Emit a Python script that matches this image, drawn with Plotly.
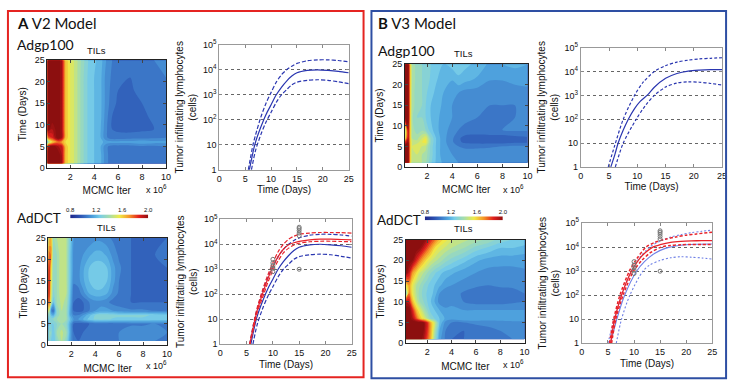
import plotly.graph_objects as go

W, H = 737, 389
FONT = "Liberation Sans"

# ---------------- heatmap data (TILs, posterior ratio) ----------------
# A1: V2 model, Adgp100
A1_X = [0.1, 0.5, 1.0, 1.3, 1.6, 2.0, 2.5, 3.0, 3.5, 4.0, 4.5, 5.0, 5.5, 6.0, 7.0, 8.0, 9.0, 10.0]
A1_Y = [1, 3, 5, 6, 7, 9, 12, 15, 18, 21, 25]
A1_Z = [
    [2.0, 2.0, 2.0, 1.9, 1.6, 1.5, 1.42, 1.32, 1.24, 1.2, 1.17, 1.06, 1.03, 1.03, 1.04, 1.04, 1.05, 1.05],
    [2.0, 2.0, 2.0, 1.9, 1.6, 1.5, 1.42, 1.32, 1.24, 1.2, 1.17, 1.06, 1.03, 1.03, 1.04, 1.04, 1.05, 1.05],
    [1.9, 2.0, 1.9, 1.85, 1.6, 1.5, 1.42, 1.32, 1.24, 1.2, 1.16, 1.06, 1.03, 1.03, 1.03, 1.04, 1.04, 1.05],
    [1.3, 1.55, 1.7, 1.65, 1.55, 1.5, 1.42, 1.32, 1.24, 1.2, 1.17, 1.13, 1.12, 1.12, 1.12, 1.14, 1.12, 1.12],
    [1.7, 1.8, 2.0, 1.9, 1.6, 1.5, 1.42, 1.32, 1.24, 1.2, 1.16, 1.06, 1.02, 1.02, 1.03, 1.03, 1.04, 1.05],
    [2.0, 1.9, 2.0, 1.9, 1.6, 1.5, 1.42, 1.32, 1.24, 1.2, 1.16, 1.06, 1.0, 0.99, 0.98, 0.99, 1.0, 1.02],
    [2.0, 2.0, 2.0, 1.9, 1.6, 1.5, 1.42, 1.32, 1.24, 1.2, 1.17, 1.07, 1.0, 0.98, 0.97, 0.98, 1.02, 1.04],
    [2.0, 2.0, 2.0, 1.9, 1.6, 1.5, 1.42, 1.32, 1.24, 1.2, 1.17, 1.08, 1.02, 0.99, 0.97, 1.0, 1.03, 1.04],
    [2.0, 2.0, 2.0, 1.9, 1.6, 1.5, 1.42, 1.32, 1.24, 1.2, 1.17, 1.08, 1.03, 1.0, 0.99, 1.02, 1.03, 1.04],
    [2.0, 2.0, 2.0, 1.9, 1.6, 1.5, 1.42, 1.32, 1.24, 1.2, 1.17, 1.08, 1.04, 1.02, 1.0, 1.03, 1.04, 1.05],
    [2.0, 2.0, 2.0, 1.9, 1.6, 1.5, 1.42, 1.33, 1.25, 1.21, 1.18, 1.1, 1.05, 1.04, 1.03, 1.04, 1.05, 1.06],
]

# A2: V2 model, AdDCT
A2_X = [0.1, 0.3, 0.5, 0.8, 1.2, 1.6, 1.9, 2.2, 2.6, 3.0, 3.5, 4.0, 4.5, 5.0, 5.5, 6.0, 7.0, 8.0, 9.0, 10.0]
A2_Y = [1, 3, 5, 6, 7, 8, 10, 12, 15, 18, 21, 25]
A2_Z = [
    [1.3, 1.25, 1.2, 1.3, 1.4, 1.3, 1.12, 1.02, 1.0, 1.02, 1.04, 1.05, 1.05, 1.05, 1.05, 1.05, 1.06, 1.06, 1.05, 1.05],
    [1.35, 1.3, 1.2, 1.35, 1.42, 1.35, 1.15, 1.0, 0.98, 1.0, 1.03, 1.05, 1.05, 1.04, 1.04, 1.05, 1.08, 1.08, 1.06, 1.05],
    [1.2, 1.25, 1.25, 1.3, 1.35, 1.3, 1.15, 1.0, 0.98, 0.98, 1.0, 1.02, 1.02, 1.02, 1.02, 1.03, 1.04, 1.04, 1.05, 1.05],
    [1.3, 1.3, 1.3, 1.35, 1.4, 1.35, 1.2, 1.1, 1.1, 1.15, 1.22, 1.26, 1.27, 1.26, 1.24, 1.24, 1.24, 1.24, 1.22, 1.22],
    [1.4, 1.2, 1.15, 1.3, 1.4, 1.35, 1.15, 1.05, 1.05, 1.1, 1.18, 1.25, 1.28, 1.28, 1.27, 1.26, 1.26, 1.26, 1.24, 1.23],
    [1.6, 1.1, 1.0, 1.3, 1.4, 1.35, 1.15, 1.0, 0.98, 1.0, 1.05, 1.1, 1.12, 1.12, 1.1, 1.08, 1.06, 1.06, 1.05, 1.05],
    [1.85, 1.45, 1.2, 1.35, 1.42, 1.38, 1.18, 1.0, 0.98, 1.0, 1.05, 1.08, 1.08, 1.06, 1.03, 1.02, 1.0, 1.0, 1.0, 1.0],
    [1.95, 1.5, 1.28, 1.35, 1.45, 1.4, 1.2, 1.02, 1.02, 1.08, 1.15, 1.18, 1.18, 1.15, 1.08, 1.04, 1.0, 0.99, 0.99, 1.0],
    [1.95, 1.55, 1.3, 1.35, 1.45, 1.4, 1.22, 1.06, 1.08, 1.14, 1.2, 1.24, 1.24, 1.2, 1.12, 1.05, 1.0, 0.99, 1.0, 1.0],
    [1.9, 1.6, 1.3, 1.35, 1.45, 1.4, 1.22, 1.08, 1.08, 1.14, 1.2, 1.23, 1.23, 1.2, 1.12, 1.06, 1.0, 1.0, 1.0, 1.0],
    [1.75, 1.7, 1.3, 1.35, 1.45, 1.4, 1.22, 1.08, 1.06, 1.1, 1.14, 1.17, 1.17, 1.14, 1.08, 1.04, 1.0, 1.0, 1.0, 1.02],
    [1.55, 1.6, 1.35, 1.4, 1.45, 1.4, 1.25, 1.1, 1.05, 1.05, 1.06, 1.08, 1.08, 1.06, 1.04, 1.02, 1.0, 1.0, 1.0, 1.0],
]

# B1: V3 model, Adgp100
B1_X = [0.25, 0.5, 0.65, 0.8, 1.2, 1.6, 1.9, 2.3, 2.8, 3.3, 4.0, 4.5, 5.0, 6.0, 7.0, 8.0, 9.0, 10.0]
B1_Y = [1, 3, 5, 6, 7, 9, 12, 15, 18, 21, 25]
B1_Z = [
    [2.0, 2.0, 1.6, 1.42, 1.42, 1.4, 1.36, 1.26, 1.18, 1.14, 1.12, 1.1, 1.1, 1.1, 1.1, 1.1, 1.1, 1.1],
    [2.0, 2.0, 1.6, 1.42, 1.45, 1.4, 1.38, 1.28, 1.18, 1.12, 1.1, 1.08, 1.08, 1.08, 1.1, 1.1, 1.1, 1.1],
    [2.0, 2.0, 1.6, 1.45, 1.5, 1.45, 1.42, 1.28, 1.18, 1.12, 1.08, 1.05, 1.04, 1.04, 1.04, 1.05, 1.06, 1.06],
    [1.8, 1.95, 1.6, 1.45, 1.42, 1.5, 1.52, 1.3, 1.18, 1.12, 1.06, 1.01, 0.99, 0.98, 0.98, 0.98, 0.99, 0.99],
    [1.5, 1.9, 1.6, 1.4, 1.38, 1.45, 1.5, 1.3, 1.18, 1.12, 1.06, 1.01, 0.98, 0.97, 0.97, 0.97, 0.98, 0.99],
    [1.4, 1.9, 1.6, 1.38, 1.32, 1.34, 1.3, 1.22, 1.16, 1.12, 1.08, 1.05, 1.04, 1.04, 1.05, 1.05, 1.06, 1.06],
    [1.95, 2.0, 1.6, 1.36, 1.3, 1.3, 1.25, 1.2, 1.16, 1.13, 1.1, 1.07, 1.06, 1.05, 1.05, 1.05, 1.05, 1.06],
    [2.0, 2.0, 1.6, 1.38, 1.32, 1.3, 1.25, 1.2, 1.17, 1.14, 1.1, 1.08, 1.07, 1.06, 1.05, 1.05, 1.05, 1.06],
    [2.0, 2.0, 1.6, 1.38, 1.32, 1.3, 1.26, 1.22, 1.18, 1.15, 1.12, 1.1, 1.08, 1.07, 1.06, 1.06, 1.06, 1.08],
    [2.0, 2.0, 1.6, 1.4, 1.32, 1.3, 1.28, 1.24, 1.2, 1.18, 1.15, 1.18, 1.16, 1.14, 1.1, 1.1, 1.12, 1.12],
    [2.0, 2.0, 1.6, 1.4, 1.32, 1.3, 1.28, 1.25, 1.22, 1.2, 1.22, 1.24, 1.22, 1.18, 1.14, 1.15, 1.16, 1.15],
]

# B2: V3 model, AdDCT
B2_X = [0.2, 0.5, 0.8, 1.1, 1.4, 1.7, 2.0, 2.3, 2.6, 3.0, 3.5, 4.0, 5.0, 6.0, 7.0, 8.0, 9.0, 10.0]
B2_Y = [1, 3, 5, 6, 8, 10, 12, 14, 17, 20, 23, 25]
B2_Z = [
    [2.0, 2.0, 2.0, 2.0, 2.0, 1.9, 1.75, 1.6, 1.35, 1.12, 1.04, 1.0, 1.0, 1.02, 1.03, 1.05, 1.05, 1.06],
    [2.0, 2.0, 2.0, 2.0, 2.0, 1.95, 1.8, 1.62, 1.4, 1.15, 1.05, 1.02, 1.0, 1.02, 1.04, 1.05, 1.06, 1.06],
    [2.0, 2.0, 2.0, 2.0, 2.0, 1.95, 1.8, 1.6, 1.45, 1.2, 1.08, 1.05, 1.05, 1.06, 1.06, 1.07, 1.08, 1.08],
    [2.0, 2.0, 1.9, 1.75, 1.6, 1.5, 1.4, 1.3, 1.25, 1.2, 1.14, 1.12, 1.15, 1.15, 1.14, 1.14, 1.14, 1.14],
    [2.0, 2.0, 1.8, 1.6, 1.48, 1.38, 1.3, 1.22, 1.2, 1.15, 1.12, 1.12, 1.1, 1.1, 1.1, 1.1, 1.1, 1.1],
    [1.9, 1.85, 1.6, 1.45, 1.35, 1.3, 1.25, 1.2, 1.15, 1.08, 1.05, 1.08, 1.05, 1.03, 1.03, 1.03, 1.04, 1.05],
    [1.2, 1.7, 1.5, 1.4, 1.32, 1.28, 1.24, 1.22, 1.18, 1.1, 1.06, 1.08, 1.04, 1.02, 1.02, 1.02, 1.03, 1.05],
    [1.5, 1.65, 1.5, 1.4, 1.35, 1.3, 1.26, 1.22, 1.2, 1.16, 1.12, 1.1, 1.08, 1.06, 1.05, 1.06, 1.06, 1.08],
    [2.0, 1.85, 1.65, 1.55, 1.45, 1.4, 1.35, 1.3, 1.26, 1.22, 1.18, 1.16, 1.12, 1.1, 1.08, 1.08, 1.08, 1.09],
    [2.0, 2.0, 1.95, 1.82, 1.7, 1.6, 1.52, 1.46, 1.42, 1.38, 1.32, 1.28, 1.22, 1.16, 1.13, 1.12, 1.12, 1.12],
    [2.0, 2.0, 2.0, 2.0, 1.95, 1.85, 1.75, 1.65, 1.55, 1.48, 1.44, 1.4, 1.35, 1.28, 1.24, 1.2, 1.2, 1.18],
    [2.0, 2.0, 2.0, 2.0, 2.0, 2.0, 1.9, 1.8, 1.72, 1.6, 1.52, 1.46, 1.42, 1.38, 1.34, 1.28, 1.25, 1.24],
]

CB_TICKS = [0.8, 1.2, 1.6, 2.0]

# ---------------- TIL trajectories (cells) ----------------
# V2 model, blue (Adgp100 fit)
V2B_MED_D = [5.8, 6.5, 7, 8, 9, 10, 11, 12, 13, 14, 15, 17, 19, 21, 23, 25]
V2B_MED_V = [1, 5, 13, 50, 160, 400, 1000, 2000, 3550, 5600, 7600, 9500, 10000, 9500, 8700, 7600]
V2B_UP_D = [5.6, 6.5, 7, 8, 9, 10, 11, 12, 13, 14, 15, 17, 19, 21, 23, 25]
V2B_UP_V = [1, 10, 25, 125, 450, 1250, 3200, 6300, 10000, 14000, 18000, 23000, 25000, 25000, 23500, 21000]
V2B_LO_D = [6.2, 7, 8, 9, 10, 11, 12, 13, 14, 15, 17, 19, 21, 23, 25]
V2B_LO_V = [1, 6, 25, 80, 200, 500, 1000, 1600, 2500, 3200, 3800, 4000, 3800, 3300, 2800]
# V2 model, red (AdDCT fit)
V2R_D = [5.6, 6.5, 7, 8, 9, 10, 11, 12, 13, 14, 15, 17, 19, 21, 23, 25]
V2R_MED_V = [1, 8, 22, 100, 400, 1250, 3200, 6300, 9500, 11500, 13000, 15000, 16000, 16000, 15500, 15000]
V2R_UP_V = [1, 10, 28, 140, 560, 1800, 5000, 10000, 16000, 21000, 25000, 28000, 29500, 29500, 29000, 28000]
V2R_LO_V = [1, 6, 18, 70, 280, 900, 2200, 4500, 7000, 9300, 11000, 12600, 13200, 13200, 12900, 12600]

# V3 model, blue (Adgp100 fit)
V3B_MED_D = [5.3, 6, 6.6, 7.5, 8.4, 9.5, 10.5, 11.9, 13, 15, 17, 19, 21, 23, 25]
V3B_MED_V = [1, 3.2, 10, 35, 100, 280, 560, 1100, 2200, 5200, 8300, 10500, 11500, 12000, 12000]
V3B_UP_D = [4.85, 6, 7.5, 9.5, 11, 13, 15, 17, 19, 21, 23, 25]
V3B_UP_V = [1, 8, 100, 1000, 3500, 10000, 17800, 25000, 30000, 34000, 36000, 38000]
V3B_LO_D = [6.1, 7.5, 9.8, 11.5, 13, 15, 17, 19, 21, 23, 25]
V3B_LO_V = [1, 10, 100, 400, 1000, 2240, 3300, 3700, 3550, 3160, 2700]
# V3 model, AdDCT panel
V3R_MED_D = [5.5, 6.3, 7.6, 9.5, 11, 12.3, 13.6, 15, 17, 19, 21, 23, 25]
V3R_MED_V = [1, 10, 100, 1000, 3200, 6300, 10000, 12600, 15800, 17400, 18200, 18600, 18600]
V3R_UP_D = [5.3, 6.1, 7.3, 9.1, 10.5, 12.3, 14, 16, 18, 20, 22, 25]
V3R_UP_V = [1, 10, 100, 1000, 3200, 10000, 15800, 21400, 26300, 31600, 35500, 41700]
V3R_LO_D = [5.7, 6.5, 7.9, 9.9, 11.5, 13, 15.2, 17, 19, 21, 23, 25]
V3R_LO_V = [1, 10, 100, 1000, 2800, 5600, 10000, 11700, 12600, 12900, 12900, 12900]
V3L_UP_D = [5.0, 6.2, 7.6, 9.5, 11, 13, 15, 17, 19, 21, 23, 25]
V3L_UP_V = [1, 10, 100, 1000, 3500, 10000, 17800, 26300, 33000, 40000, 45700, 51000]
V3L_MED_D = [5.5, 6.7, 8.2, 10.5, 12, 14, 16, 18, 20, 22, 25]
V3L_MED_V = [1, 10, 100, 1000, 2500, 5600, 8900, 11200, 12600, 13200, 13500]
V3L_LO_D = [6.6, 7.6, 9.2, 11.7, 13, 15, 17, 19, 21, 23, 25]
V3L_LO_V = [1, 10, 100, 1000, 1800, 2800, 3600, 4000, 3800, 3550, 3200]

# experimental AdDCT data
OBS_D = [10, 10, 10, 10, 10, 15, 15, 15, 15, 15, 15]
OBS_V = [800, 1100, 1400, 1800, 2500, 22000, 28000, 35000, 42000, 48000, 1000]

LOG_TICKS = [1, 10, 100, 1000, 10000, 100000]
LOG_TEXT = ["1", "10", "10<sup>2</sup>", "10<sup>3</sup>", "10<sup>4</sup>", "10<sup>5</sup>"]
DAY_TICKS = [0, 5, 10, 15, 20, 25]
ITER_TICKS = [2, 4, 6, 8, 10]

BLUE = "#2a36b0"
LBLUE = "#6f80e6"
RED = "#e8232b"

# softened jet, as it appears in the figure
JET = [
    [0.0, "rgb(30,40,140)"],
    [0.125, "rgb(45,85,180)"],
    [0.2, "rgb(60,120,200)"],
    [0.3, "rgb(82,170,225)"],
    [0.375, "rgb(120,205,232)"],
    [0.5, "rgb(168,222,170)"],
    [0.625, "rgb(240,235,70)"],
    [0.75, "rgb(245,150,40)"],
    [0.875, "rgb(225,30,30)"],
    [1.0, "rgb(140,15,15)"],
]


def dx(a, b):
    return [a / W, b / W]


def dy(top, bottom):
    return [1 - bottom / H, 1 - top / H]


fig = go.Figure()


def heat(x, y, z, n):
    fig.add_trace(go.Contour(
        x=x, y=y, z=z, colorscale=JET, zmin=0.8, zmax=2.0, zauto=False,
        autocontour=False, contours=dict(start=0.8, end=1.98, size=0.05, coloring="fill"),
        line=dict(width=0), line_smoothing=0.9, showscale=False, hoverinfo="skip",
        xaxis="x" + n, yaxis="y" + n))


def line(d, v, n, color, dash, width=1.2):
    fig.add_trace(go.Scatter(
        x=d, y=v, mode="lines", line=dict(color=color, dash=dash, width=width, shape="spline", smoothing=0.8),
        showlegend=False, hoverinfo="skip", xaxis="x" + n, yaxis="y" + n))


def obs(n):
    fig.add_trace(go.Scatter(
        x=OBS_D, y=OBS_V, mode="markers",
        marker=dict(symbol="circle-open", size=4, color="#777", line=dict(width=1)),
        showlegend=False, hoverinfo="skip", xaxis="x" + n, yaxis="y" + n))


heat(A1_X, A1_Y, A1_Z, "1")
heat(A2_X, A2_Y, A2_Z, "3")
heat(B1_X, B1_Y, B1_Z, "5")
heat(B2_X, B2_Y, B2_Z, "7")

DASH = "4px,2px"
DOT = "2px,2px"
# A1 lines
line(V2B_UP_D, V2B_UP_V, "2", BLUE, DASH)
line(V2B_MED_D, V2B_MED_V, "2", BLUE, "solid")
line(V2B_LO_D, V2B_LO_V, "2", BLUE, DASH)
# A2 lines
line(V2B_UP_D, V2B_UP_V, "4", BLUE, DASH)
line(V2B_MED_D, V2B_MED_V, "4", BLUE, "solid")
line(V2B_LO_D, V2B_LO_V, "4", BLUE, DASH)
line(V2R_D, V2R_UP_V, "4", RED, DASH)
line(V2R_D, V2R_MED_V, "4", RED, "solid")
line(V2R_D, V2R_LO_V, "4", RED, DASH)
obs("4")
# B1 lines
line(V3B_UP_D, V3B_UP_V, "6", BLUE, "3px,2px")
line(V3B_MED_D, V3B_MED_V, "6", BLUE, "solid")
line(V3B_LO_D, V3B_LO_V, "6", BLUE, "3px,2px")
# B2 lines
line(V3L_UP_D, V3L_UP_V, "8", LBLUE, DOT, 1.1)
line(V3L_MED_D, V3L_MED_V, "8", LBLUE, "solid", 1.1)
line(V3L_LO_D, V3L_LO_V, "8", LBLUE, DOT, 1.1)
line(V3R_UP_D, V3R_UP_V, "8", RED, "3px,2px", 1.5)
line(V3R_MED_D, V3R_MED_V, "8", RED, "solid", 1.3)
line(V3R_LO_D, V3R_LO_V, "8", RED, "3px,2px", 1.5)
obs("8")

# colorbars
for n in ["9", "10"]:
    fig.add_trace(go.Heatmap(
        x=CB_TICKS, y=[0], z=[CB_TICKS], colorscale=JET, zmin=0.8, zmax=2.0, zsmooth="best",
        showscale=False, hoverinfo="skip", xaxis="x" + n, yaxis="y" + n))

tick_font = dict(family=FONT, size=9, color="#111")
title_font = dict(family=FONT, size=10, color="#111")

layout_axes = {}


def heat_axes(n, xd, yd, xr):
    layout_axes["xaxis" + n] = dict(
        domain=dx(*xd), anchor="y" + n, range=xr, tickvals=ITER_TICKS, ticks="inside", ticklen=3,
        showline=True, linecolor="#222", linewidth=1, mirror="ticks", showgrid=False, zeroline=False,
        tickfont=tick_font, title=dict(text="MCMC Iter", font=title_font, standoff=6))
    layout_axes["yaxis" + n] = dict(
        domain=dy(*yd), anchor="x" + n, range=[0, 25], tickvals=DAY_TICKS, ticks="inside", ticklen=3,
        showline=True, linecolor="#222", linewidth=1, mirror="ticks", showgrid=False, zeroline=False,
        tickfont=tick_font, title=dict(text="Time (Days)", font=title_font, standoff=6))


def line_axes(n, xd, yd):
    layout_axes["xaxis" + n] = dict(
        domain=dx(*xd), anchor="y" + n, range=[0, 25], tickvals=DAY_TICKS, ticks="inside", ticklen=3,
        tickcolor="#888", showline=True, linecolor="#999", linewidth=1, mirror="ticks", showgrid=False,
        zeroline=False, tickfont=tick_font, title=dict(text="Time (Days)", font=title_font, standoff=3))
    layout_axes["yaxis" + n] = dict(
        domain=dy(*yd), anchor="x" + n, type="log", range=[0, 5], tickvals=LOG_TICKS, ticktext=LOG_TEXT,
        ticks="inside", ticklen=3, tickcolor="#888", showline=True, linecolor="#999", linewidth=1,
        mirror="ticks", showgrid=True, gridcolor="#666", griddash="dot", gridwidth=1, zeroline=False,
        tickfont=tick_font,
        title=dict(text="Tumor infiltrating lymphocytes<br>(cells)", font=title_font, standoff=4))


def cb_axes(n, xd, yd):
    layout_axes["xaxis" + n] = dict(
        domain=dx(*xd), anchor="y" + n, range=[0.8, 2.0], side="top", tickvals=CB_TICKS,
        ticktext=["0.8", "1.2", "1.6", "2.0"], ticks="", showline=False, showgrid=False, zeroline=False,
        tickfont=dict(family=FONT, size=6, color="#111"))
    layout_axes["yaxis" + n] = dict(
        domain=dy(*yd), anchor="x" + n, range=[-0.5, 0.5], visible=False)


heat_axes("1", (44, 164), (55, 166), [0.1, 10])
line_axes("2", (218, 349), (39, 168))
heat_axes("3", (45, 165), (238, 349), [0.1, 10])
line_axes("4", (219, 352), (219, 348))
heat_axes("5", (406, 530), (59, 165), [0.25, 10])
line_axes("6", (584, 727), (42, 165))
heat_axes("7", (407, 527), (240, 347), [0.25, 10])
line_axes("8", (585, 717), (223, 347))
cb_axes("9", (67, 146), (214, 218))
cb_axes("10", (426, 505), (216, 220))


def ann(text, x, y, size, anchor="left", family=FONT):
    return dict(text=text, x=x / W, y=1 - y / H, xref="paper", yref="paper", xanchor=anchor,
                yanchor="middle", showarrow=False, font=dict(family=family, size=size, color="#111"))


annotations = [
    ann("<b>A</b> V2 Model", 11, 17, 15, family="Lato"),
    ann("Adgp100", 11, 39, 14, family="Lato"),
    ann("AdDCT", 11, 218, 13.5, family="Lato"),
    ann("<b>B</b> V3 Model", 377, 16, 15, family="Lato"),
    ann("Adgp100", 377, 45, 14, family="Lato"),
    ann("AdDCT", 376, 220, 13.5, family="Lato"),
    ann("TILs", 94, 45, 9.5, "center"),
    ann("TILs", 104, 228, 9.5, "center"),
    ann("TILs", 465, 48, 9.5, "center"),
    ann("TILs", 465, 229, 9.5, "center"),
    ann("x 10<sup>6</sup>", 142, 188, 9),
    ann("x 10<sup>6</sup>", 142, 369, 9),
    ann("x 10<sup>6</sup>", 503, 188, 9),
    ann("x 10<sup>6</sup>", 503, 368, 9),
]

shapes = [
    dict(type="rect", xref="paper", yref="paper", x0=4 / W, x1=364 / W, y0=1 - 382 / H, y1=1 - 4 / H,
         line=dict(color="#e52421", width=2)),
    dict(type="rect", xref="paper", yref="paper", x0=372 / W, x1=731 / W, y0=1 - 383 / H, y1=1 - 4 / H,
         line=dict(color="#2e4fa3", width=2)),
]

fig.update_layout(
    width=W, height=H, margin=dict(l=0, r=0, t=0, b=0), paper_bgcolor="white", plot_bgcolor="white",
    showlegend=False, annotations=annotations, shapes=shapes, **layout_axes)

fig.write_html("out.html", config={"displayModeBar": False},
               post_script="document.body.style.margin='0px';document.body.style.overflow='hidden';")
